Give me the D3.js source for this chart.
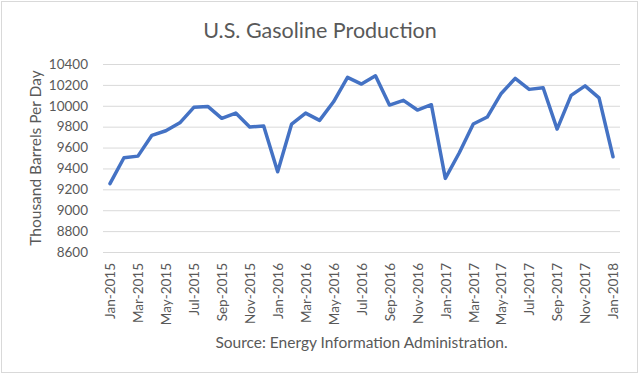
<!DOCTYPE html>
<html>
<head>
<meta charset="utf-8">
<script src="https://cdn.jsdelivr.net/npm/d3@7"></script>
<style>
  body { margin: 0; background: #fff; }
  svg { display: block; font-family: Lato, "Open Sans", sans-serif; }
</style>
</head>
<body>
<svg id="chart" width="640" height="375"></svg>
<script>
// monthly values, Jan-2015 .. Jan-2018
var months = ["Jan","Feb","Mar","Apr","May","Jun","Jul","Aug","Sep","Oct","Nov","Dec"];
var years = [2015, 2016, 2017, 2018];
var production = [
  9255, 9502, 9518, 9717, 9761, 9837, 9985, 9994, 9880, 9930, 9796, 9806,
  9368, 9825, 9930, 9860, 10038, 10272, 10208, 10287, 10007, 10052, 9959, 10010,
  9305, 9550, 9825, 9892, 10118, 10262, 10157, 10172, 9777, 10100, 10191, 10076,
  9512
];
var yTicks = [8600, 8800, 9000, 9200, 9400, 9600, 9800, 10000, 10200, 10400];

var labels = [];
years.forEach(function(y) {
  months.forEach(function(m) { labels.push(m + "-" + y); });
});
labels = labels.slice(0, production.length);

var svg = d3.select("#chart");
var plotLeft = 103, plotRight = 620, plotTop = 64, plotBottom = 252;

svg.append("rect")
  .attr("x", 1.5).attr("y", 1.5)
  .attr("width", 636).attr("height", 371)
  .attr("fill", "#fff")
  .attr("stroke", "#d9d9d9");

var x = d3.scalePoint()
  .domain(labels)
  .range([plotLeft, plotRight])
  .padding(0.5);

var y = d3.scaleLinear()
  .domain([8600, 10400])
  .range([plotBottom, plotTop]);

// gridlines
svg.append("g")
  .selectAll("line")
  .data(yTicks)
  .enter()
  .append("line")
  .attr("x1", plotLeft).attr("x2", plotRight)
  .attr("y1", (d) => y(d) + 0.5).attr("y2", (d) => y(d) + 0.5)
  .attr("stroke", "#d9d9d9")
  .attr("stroke-width", 1);

// y axis labels
var yAxis = d3.axisLeft(y)
  .tickValues(yTicks)
  .tickFormat(d3.format("d"))
  .tickSize(0)
  .tickPadding(15);
var gy = svg.append("g")
  .attr("transform", "translate(" + plotLeft + ",0)")
  .call(yAxis);
gy.select(".domain").remove();
gy.selectAll("text")
  .attr("fill", "#595959")
  .style("font-size", "13.5px")
  .style("font-family", "Lato, sans-serif");

// x axis labels, every other month
var xAxis = d3.axisBottom(x)
  .tickValues(labels.filter((d, i) => i % 2 === 0))
  .tickSize(0);
var gx = svg.append("g")
  .attr("transform", "translate(0," + plotBottom + ")")
  .call(xAxis);
gx.select(".domain").remove();
gx.selectAll("text")
  .attr("transform", "rotate(-90)")
  .attr("x", -11)
  .attr("y", 0)
  .attr("dy", "0.35em")
  .attr("text-anchor", "end")
  .attr("fill", "#595959")
  .style("font-size", "13.5px")
  .style("font-family", "Lato, sans-serif");

// the series
var line = d3.line()
  .x((d, i) => x(labels[i]))
  .y((d) => y(d));

svg.append("path")
  .datum(production)
  .attr("d", line)
  .attr("fill", "none")
  .attr("stroke", "#4472c4")
  .attr("stroke-width", 3.5)
  .attr("stroke-linejoin", "round")
  .attr("stroke-linecap", "round");

// titles
svg.append("text")
  .attr("x", 320).attr("y", 38)
  .attr("text-anchor", "middle")
  .attr("fill", "#595959")
  .style("font-size", "21.5px")
  .text("U.S. Gasoline Production");

svg.append("text")
  .attr("transform", "translate(41," + ((plotTop + plotBottom) / 2) + ") rotate(-90)")
  .attr("text-anchor", "middle")
  .attr("fill", "#595959")
  .style("font-size", "15.5px")
  .text("Thousand Barrels Per Day");

svg.append("text")
  .attr("x", (plotLeft + plotRight) / 2).attr("y", 348)
  .attr("text-anchor", "middle")
  .attr("fill", "#595959")
  .style("font-size", "15.5px")
  .text("Source: Energy Information Administration.");
</script>
</body>
</html>
